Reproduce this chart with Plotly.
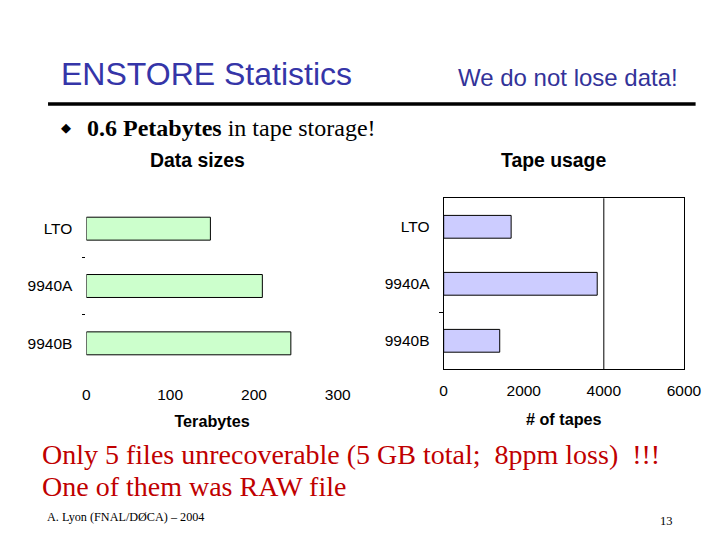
import plotly.graph_objects as go

categories = ["LTO", "9940A", "9940B"]
data_sizes_tb = [148, 210, 244]
tape_counts = [1685, 3835, 1400]
size_ticks = [0, 100, 200, 300]
tape_ticks = [0, 2000, 4000, 6000]

ARIAL = "Liberation Sans, Arial, sans-serif"
TIMES = "Liberation Serif, Times New Roman, serif"

# figure placement in the captured page (measured): x offset/scale, y offset
X0, XS, Y0 = 12.0, 0.9686, 8.0
W, H = 720, 522

def px(x):
    return (x - X0) / XS / W

def py(y):
    return 1 - (y - Y0) / H

fig = go.Figure()
fig.add_trace(go.Bar(
    y=categories, x=data_sizes_tb, orientation="h", width=0.4,
    marker=dict(color="#ccffcc", line=dict(color="black", width=1)),
    xaxis="x", yaxis="y", showlegend=False,
))
fig.add_trace(go.Bar(
    y=categories, x=tape_counts, orientation="h", width=0.4,
    marker=dict(color="#ccccff", line=dict(color="black", width=1)),
    xaxis="x2", yaxis="y2", showlegend=False,
))

tickfont = dict(family=ARIAL, size=15.5, color="black")
titlefont = dict(family=ARIAL, size=16.2, color="black")
fig.update_layout(
    width=W, height=H, margin=dict(l=0, r=0, t=0, b=0),
    paper_bgcolor="white", plot_bgcolor="white",
    bargap=0.6,
    xaxis=dict(domain=[px(86.3), px(337.5)], range=[0, 300], tickvals=size_ticks,
               showgrid=False, zeroline=False, showline=False,
               ticks="outside", ticklen=8, tickcolor="rgba(0,0,0,0)",
               tickfont=tickfont, anchor="y",
               title=dict(text="<b>Terabytes</b>", font=titlefont, standoff=14)),
    yaxis=dict(domain=[py(372), py(200)], range=[2.5, -0.5], type="category",
               showgrid=False, zeroline=False, showline=False,
               ticks="", ticklabelstandoff=13,
               tickfont=tickfont, anchor="x",
               minor=dict(tickvals=[0.5, 1.5], ticks="outside", ticklen=3, tickcolor="black")),
    xaxis2=dict(domain=[px(443.3), px(683.3)], range=[0, 6000], tickvals=tape_ticks,
                showgrid=False, zeroline=False, showline=True, linecolor="black", linewidth=1,
                mirror=True, ticks="outside", ticklen=7, tickcolor="rgba(0,0,0,0)",
                tickfont=tickfont, anchor="y2",
                title=dict(text="<b># of tapes</b>", font=titlefont, standoff=15)),
    yaxis2=dict(domain=[py(369.3), py(198.3)], range=[2.5, -0.5], type="category",
                showgrid=False, zeroline=False, showline=True, linecolor="black", linewidth=1,
                mirror=True, ticks="", ticklabelstandoff=10,
                tickfont=tickfont, anchor="x2",
                minor=dict(tickvals=[1.5], ticks="outside", ticklen=4, tickcolor="black")),
)

# gridline at 4000 in the tape chart
fig.add_shape(type="line", xref="x2", yref="y2 domain", x0=4000, x1=4000, y0=0, y1=1,
              line=dict(color="black", width=1))
# slide header rule
fig.add_shape(type="line", xref="paper", yref="paper", x0=px(48), x1=px(695), y0=py(104), y1=py(104),
              line=dict(color="black", width=3.5))

def note(text, x, y, size, color="black", family=ARIAL, xanchor="left"):
    if xanchor == "left":
        x -= 3
    fig.add_annotation(text=text, xref="paper", yref="paper", x=px(x), y=py(y),
                       xanchor=xanchor, yanchor="middle", showarrow=False,
                       font=dict(family=family, size=size, color=color))

note("ENSTORE Statistics", 62, 74, 32, color="#3535a8")
note("We do not lose data!", 459, 77, 24, color="#333399")
note("\u25c6", 62, 128, 13)
note("<b>0.6 Petabytes</b> in tape storage!", 88, 128, 24, family=TIMES)
note("<b>Data sizes</b>", 197, 160, 19.4, xanchor="center")
note("<b>Tape usage</b>", 553, 160, 19.4, xanchor="center")
note("Only 5 files unrecoverable (5 GB total;&nbsp; 8ppm loss)&nbsp; !!!", 43, 454, 28, color="#c00000", family=TIMES)
note("One of them was RAW file", 43, 486, 28, color="#c00000", family=TIMES)
note("A. Lyon (FNAL/D\u00d8CA) \u2013 2004", 48, 517, 12.2, family=TIMES)
note("13", 660, 521, 12.5, family=TIMES)

fig.write_html("out.html")
